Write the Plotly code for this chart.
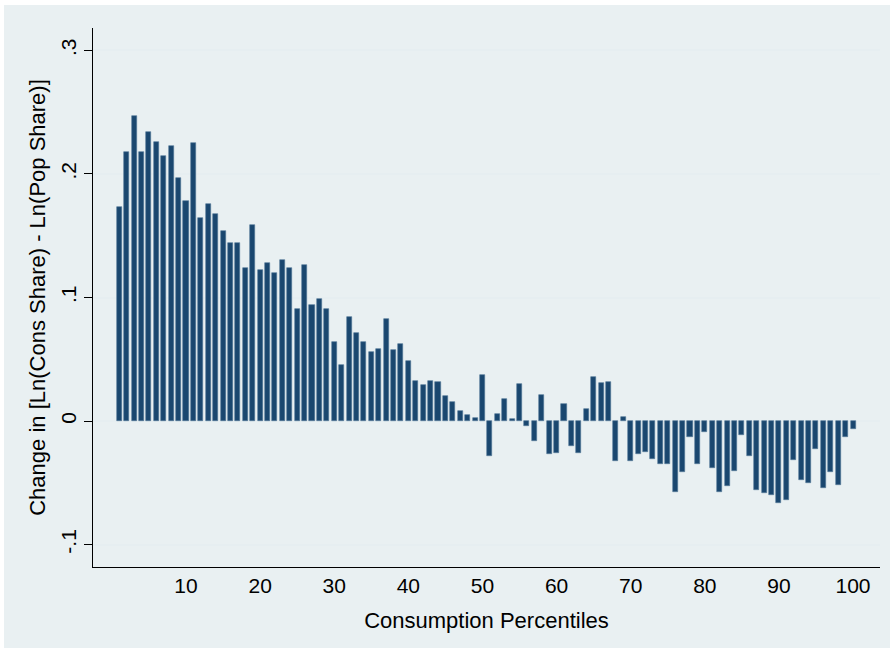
import plotly.graph_objects as go

# Consumption percentile (1..100) and change in log share ratio
percentiles = list(range(1, 101))
change = [
    0.1735, 0.2175, 0.2467, 0.2175, 0.2340, 0.2257, 0.2146, 0.2227, 0.1968, 0.1781,
    0.2251, 0.1644, 0.1757, 0.1679, 0.1538, 0.1439, 0.1439, 0.1239, 0.1587, 0.1220,
    0.1279, 0.1198, 0.1304, 0.1236, 0.0907, 0.1266, 0.0939, 0.0988, 0.0907, 0.0640,
    0.0456, 0.0845, 0.0713, 0.0640, 0.0561, 0.0583, 0.0826, 0.0578, 0.0626, 0.0486,
    0.0324, 0.0291, 0.0324, 0.0316, 0.0200, 0.0154, 0.0081, 0.0051, 0.0022, 0.0370,
    -0.0281, 0.0057, 0.0178, 0.0013, 0.0297, -0.0040, -0.0159, 0.0208, -0.0270, -0.0262,
    0.0135, -0.0202, -0.0262, 0.0100, 0.0354, 0.0305, 0.0316, -0.0322, 0.0030, -0.0322,
    -0.0267, -0.0254, -0.0305, -0.0351, -0.0348, -0.0572, -0.0410, -0.0127, -0.0351, -0.0089,
    -0.0383, -0.0575, -0.0524, -0.0402, -0.0111, -0.0281, -0.0559, -0.0585, -0.0597, -0.0666,
    -0.0640, -0.0318, -0.0475, -0.0502, -0.0224, -0.0540, -0.0413, -0.0521, -0.0130, -0.0067,
]

x_ticks = [10, 20, 30, 40, 50, 60, 70, 80, 90, 100]
y_ticks = [-0.1, 0, 0.1, 0.2, 0.3]
y_tick_text = ["-.1", "0", ".1", ".2", ".3"]

BAR = "#1a476f"
BG = "#e9f0f2"
GRID = "#e6eef1"
FONT = "Liberation Sans, Arial, sans-serif"

W, H = 890, 649
ML, MR, MT, MB = 93, 10, 28, 82
pw = W - ML - MR
ph = H - MT - MB

fig = go.Figure(
    go.Bar(
        x=percentiles,
        y=change,
        width=0.68,
        marker=dict(color=BAR, line=dict(color="#4f7395", width=0.6)),
    )
)

# Light graph region inside a thin white border
fig.add_shape(
    type="rect", xref="paper", yref="paper", layer="below",
    x0=(4 - ML) / pw, x1=(W - ML) / pw,
    y0=(MB - 1) / ph * -1, y1=1 + (MT - 5) / ph,
    fillcolor=BG, line=dict(width=0),
)

fig.update_layout(
    width=W, height=H,
    margin=dict(l=ML, r=MR, t=MT, b=MB, pad=0),
    paper_bgcolor="white",
    plot_bgcolor="white",
    showlegend=False,
    bargap=0,
    font=dict(family=FONT, color="#000000", size=21),
    xaxis=dict(
        range=[-2.55, 103.64],
        tickvals=x_ticks,
        ticks="",
        showgrid=False,
        zeroline=False,
        showline=True, linecolor="#000000", linewidth=1.2,
        tickfont=dict(size=21),
        title=dict(text="Consumption Percentiles", font=dict(size=22), standoff=16),
    ),
    yaxis=dict(
        range=[-0.1182, 0.3182],
        tickvals=y_ticks,
        ticktext=y_tick_text,
        tickangle=-90,
        ticks="outside", ticklen=8, tickwidth=1, tickcolor="#000000",
        showgrid=True, gridcolor=GRID, gridwidth=2,
        zeroline=False,
        showline=True, linecolor="#000000", linewidth=1.2,
        tickfont=dict(size=21),
        title=dict(text="Change in [Ln(Cons Share) - Ln(Pop Share)]",
                   font=dict(size=22), standoff=4),
    ),
)

fig.write_html("out.html")
